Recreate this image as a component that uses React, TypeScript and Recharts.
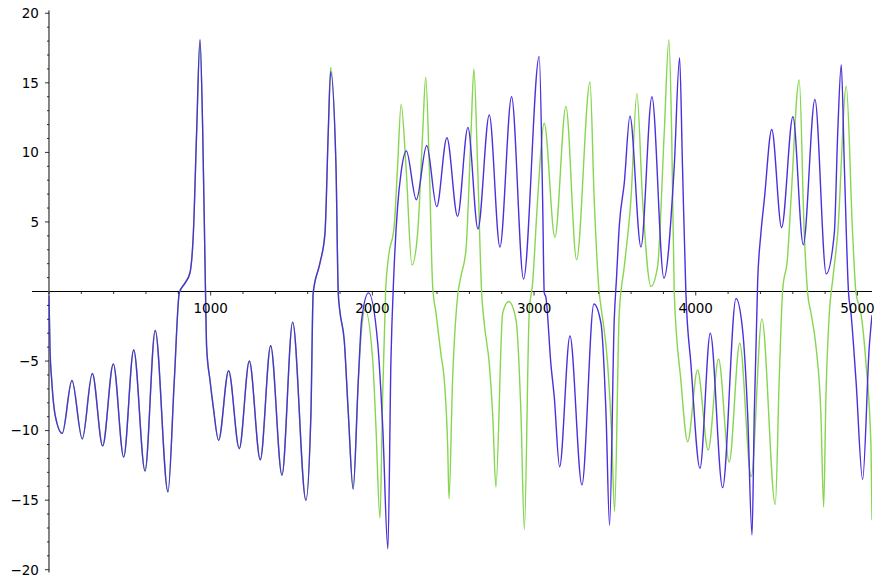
import { LineChart, Line, XAxis, YAxis, ReferenceLine } from 'recharts'

// both trajectories are identical up to ~t=1730
const sharedPts: [number, number][] = [
  [0, -0.3], [6, -4], [17, -6.4], [40, -9], [82, -10.2], [142, -6.4], [206, -10.6],
  [268, -5.9], [332, -11.1], [398, -5.2], [462, -11.9], [524, -4.2], [594, -12.9],
  [657, -2.8], [736, -14.4], [775, -6.4], [806, -0.1], [841, 0.6], [872, 1.35],
  [893, 4.2], [913, 11.4], [934, 18.1], [950, 12], [968, 0], [975, -4], [996, -6.4],
  [1016, -8.3], [1049, -10.7], [1111, -5.7], [1177, -11.3], [1239, -5.0], [1307, -12.1],
  [1371, -3.9], [1441, -13.2], [1507, -2.2], [1589, -15.0], [1620, -8.8], [1634, -0.1],
  [1676, 2.05], [1707, 4.2], [1727, 11.4],
]

const blueTail: [number, number][] = [
  [1742, 15.8], [1775, 9], [1789, -0.1], [1800, -1.5], [1826, -3.5], [1851, -8.7],
  [1881, -14.2], [1913, -6.4], [1934, -2.0], [1976, -0.1], [2033, -3.7], [2064, -9.7],
  [2096, -18.5], [2115, -4.9], [2133, 1.3], [2156, 6.1], [2177, 8.5], [2210, 10.1],
  [2272, 6.6], [2336, 10.5], [2398, 6.1], [2461, 11.05], [2527, 5.4], [2591, 11.8],
  [2653, 4.5], [2723, 12.7], [2789, 3.2], [2861, 14.0], [2935, 0.9], [3032, 16.9],
  [3053, 6.6], [3063, -0.1], [3073, -0.4], [3104, -5.2], [3125, -7.6], [3158, -12.6],
  [3222, -3.2], [3296, -13.9], [3370, -0.9], [3414, -2.3], [3445, -8.8], [3467, -16.8],
  [3496, -2], [3510, 1], [3527, 4.7], [3558, 7.8], [3593, 12.6], [3661, 3.2],
  [3729, 14.0], [3803, 0.96], [3867, 9.0], [3900, 16.8], [3918, 9], [3939, -0.1],
  [3970, -5.2], [4026, -12.7], [4090, -3.0], [4166, -14.1], [4249, -0.5], [4290, -2.8],
  [4321, -8.8], [4348, -17.5], [4362, -8.8], [4383, 0.8], [4403, 4.2], [4424, 6.6],
  [4470, 11.65], [4531, 4.6], [4601, 12.56], [4665, 3.36], [4737, 13.8], [4807, 1.27],
  [4857, 4.2], [4878, 11.4], [4900, 16.3], [4919, 9], [4945, -0.1], [4960, -1.56],
  [4991, -6.4], [5032, -13.5], [5073, -4.0], [5090, -1.7],
]

const greenTail: [number, number][] = [
  [1742, 16.1], [1775, 9], [1789, -0.1], [1800, -1.5], [1826, -3.5], [1851, -8.7],
  [1881, -14.2], [1913, -6.4], [1935, -2.5], [1955, -1.3], [2002, -4.9], [2022, -9.7],
  [2047, -16.3], [2064, -7.3], [2082, 0], [2100, 2.5], [2135, 4.7], [2156, 9.0],
  [2178, 13.45], [2208, 9.0], [2245, 1.9], [2280, 4.2], [2311, 11.4], [2330, 15.4],
  [2352, 9], [2373, 0.36], [2393, -1.5], [2424, -4.5], [2445, -6.4], [2466, -11.2],
  [2474, -14.9], [2496, -6.4], [2527, -0.36], [2548, 1.1], [2579, 3.0], [2610, 11.4],
  [2628, 16.0], [2651, 9], [2676, -0.1], [2692, -2.3], [2723, -5.2], [2744, -8.8],
  [2764, -14.05], [2806, -1.56], [2843, -0.72], [2888, -2.0], [2919, -8.8], [2940, -17.1],
  [2970, -1.56], [2991, 0.6], [3022, 6.6], [3063, 12.1], [3129, 3.9], [3197, 13.3],
  [3263, 2.28], [3346, 15.06], [3372, 6.6], [3403, -0.1], [3414, -1.1], [3455, -5.2],
  [3479, -10], [3498, -15.8], [3527, -1.5], [3558, 1.8], [3599, 6.6], [3636, 14.24],
  [3671, 6.6], [3723, 0.36], [3764, 1.8], [3805, 11.4], [3834, 18.1], [3851, 11.4],
  [3867, -0.1], [3908, -6.4], [3950, -10.8], [4011, -5.64], [4077, -11.4], [4141, -4.85],
  [4207, -12.25], [4272, -3.72], [4343, -13.3], [4409, -1.97], [4492, -15.3], [4516, -6.4],
  [4537, 0], [4568, 2.5], [4589, 6.6], [4640, 15.2], [4671, 4.2], [4692, -0.1],
  [4713, -1.56], [4744, -4.0], [4774, -8.8], [4791, -15.5], [4805, -7.6], [4826, -1.56],
  [4847, 0.84], [4878, 4.2], [4931, 14.75], [4970, 4.2], [4991, -0.1], [5022, -1.56],
  [5053, -5.2], [5084, -11.2], [5090, -16.4],
]

const xTicks = Array.from({ length: 26 }, (_, i) => i * 200)
const yTicks = Array.from({ length: 41 }, (_, i) => i - 20).filter(v => v !== 0)

const W = 884
const H = 587
// axes take 1px each (a 0-size axis is not drawn at all)
const M = { top: 10.5, right: 12, bottom: 13.5, left: 31 }
const X_DOMAIN: [number, number] = [-105, 5090]
const Y_DOMAIN: [number, number] = [-20.2, 20.2]

// where the axes cross (x=0, y=0) in pixels
const plotL = M.left + 1
const plotW = W - plotL - M.right
const plotH = H - M.top - M.bottom - 1
const ZERO_X = plotL + ((0 - X_DOMAIN[0]) / (X_DOMAIN[1] - X_DOMAIN[0])) * plotW
const ZERO_Y = M.top + ((Y_DOMAIN[1] - 0) / (Y_DOMAIN[1] - Y_DOMAIN[0])) * plotH

const FONT = 'DejaVu Sans, sans-serif'
const fmt = (v: number) => (v < 0 ? '\u2212' + Math.abs(v) : String(v))

const toRows = (pts: [number, number][]) => pts.map(([x, y]) => ({ x, y }))
const blueData = toRows([...sharedPts, ...blueTail])
const greenData = toRows([...sharedPts, ...greenTail])

function XTick({ x, payload }: any) {
  const v = payload.value as number
  const major = v % 1000 === 0 && v !== 0
  return (
    <g>
      <line x1={x} x2={x} y1={ZERO_Y} y2={ZERO_Y + (major ? 4 : 2.5)} stroke="#000" strokeWidth={0.8} />
      {major && (
        <text x={x} y={ZERO_Y + 21} textAnchor="middle" fontSize={13.5} fontFamily={FONT} fill="#000">
          {v}
        </text>
      )}
    </g>
  )
}

function YTick({ y, payload }: any) {
  const v = payload.value as number
  const major = v % 5 === 0
  return (
    <g>
      <line x1={ZERO_X - (major ? 4 : 2)} x2={ZERO_X} y1={y} y2={y} stroke="#000" strokeWidth={0.8} />
      {major && (
        <text x={ZERO_X - 10} y={y} dy="0.36em" textAnchor="end" fontSize={13.5} fontFamily={FONT} fill="#000">
          {fmt(v)}
        </text>
      )}
    </g>
  )
}

export default function App() {
  return (
    <div style={{ position: 'fixed', left: 0, top: 0, background: '#fff' }}>
      <LineChart width={W} height={H} margin={M}>
        <XAxis
          dataKey="x"
          type="number"
          domain={X_DOMAIN}
          allowDataOverflow
          ticks={xTicks}
          interval={0}
          height={1}
          axisLine={false}
          tickLine={false}
          tick={XTick}
        />
        <YAxis
          type="number"
          domain={Y_DOMAIN}
          allowDataOverflow
          ticks={yTicks}
          interval={0}
          width={1}
          axisLine={false}
          tickLine={false}
          tick={YTick}
        />
        <ReferenceLine y={0} stroke="#000" strokeWidth={1} />
        <ReferenceLine x={0} stroke="#666" strokeWidth={1.6} />
        <Line data={greenData} dataKey="y" type="monotone" stroke="#86d650" strokeWidth={1.4} dot={false} isAnimationActive={false} />
        <Line data={blueData} dataKey="y" type="monotone" stroke="#4b30dc" strokeWidth={1.4} dot={false} isAnimationActive={false} />
      </LineChart>
    </div>
  )
}
